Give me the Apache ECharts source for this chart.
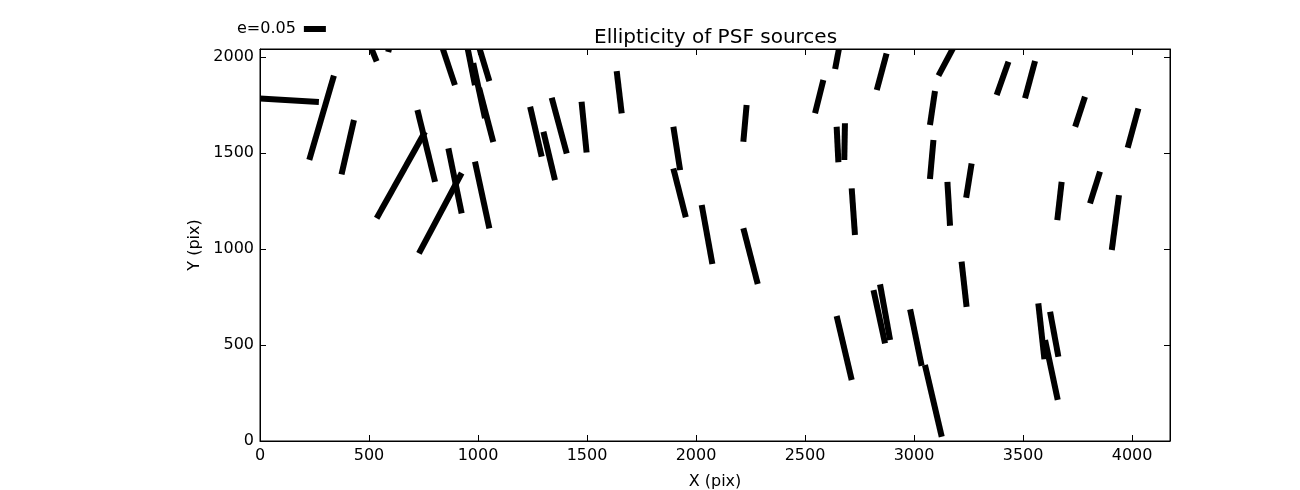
<!DOCTYPE html>
<html>
<head>
<meta charset="utf-8">
<script src="https://cdn.jsdelivr.net/npm/echarts@6/dist/echarts.min.js"></script>
<style>
html,body{margin:0;padding:0;background:#fff;}
#chart{width:1300px;height:490px;}
</style>
</head>
<body>
<div id="chart"></div>
<script>
// Whisker segments (data units: pixels of the detector)
const x1 = [-10, 339, 431, 500, 588, 832, 722, 535, 729, 948, 1000, 978, 1005, 1239, 1300, 1338, 1475, 1636, 864, 986,
            2232, 1896, 1896, 2026, 2217, 2660, 2584, 2874, 2645, 2683, 2714, 3190, 3096, 3089, 3153, 3264, 3433, 3555, 3784, 4029,
            3677, 3853, 3940, 2645, 2814, 2844, 2982, 3050, 3218, 3570, 3624, 3601];
const y1 = [1785, 1903, 1672, 2075, 2026, 2065, 1724, 1160, 977, 2070, 2070, 1969, 1839, 1741, 1611, 1788, 1767, 1927, 1524, 1455,
            1750, 1637, 1420, 1229, 1108, 2070, 1880, 2019, 1637, 1655, 1316, 2070, 1823, 1568, 1350, 1446, 1975, 1979, 1793, 1732,
            1350, 1403, 1281, 651, 786, 816, 686, 396, 934, 717, 673, 526];
const x2 = [270, 226, 374, 535, 600, 894, 803, 757, 925, 986, 1052, 1032, 1070, 1292, 1353, 1407, 1498, 1659, 925, 1052,
            2217, 1927, 1953, 2075, 2283, 2638, 2546, 2829, 2653, 2680, 2729, 3112, 3073, 3073, 3165, 3239, 3379, 3509, 3739, 3980,
            3657, 3807, 3907, 2714, 2867, 2890, 3035, 3127, 3241, 3598, 3662, 3659];
const y2 = [1766, 1464, 1389, 1977, 2080, 1854, 1350, 1611, 1396, 1854, 1875, 1682, 1557, 1481, 1359, 1498, 1503, 1707, 1186, 1108,
            1559, 1411, 1165, 922, 818, 1938, 1707, 1828, 1452, 1464, 1073, 1903, 1646, 1365, 1121, 1267, 1802, 1785, 1637, 1528,
            1151, 1238, 995, 318, 509, 526, 391, 22, 699, 426, 439, 214];

const keyLabel = 'e=0.05';
const xTicks = [0, 500, 1000, 1500, 2000, 2500, 3000, 3500, 4000];
const yTicks = [0, 500, 1000, 1500, 2000];
const xMax = 4174, yMax = 2042;

const rows = x1.map((v, i) => [v, y1[i], x2[i], y2[i]]);
const FONT = 'DejaVu Sans';

const chart = echarts.init(document.getElementById('chart'), null, {renderer: 'canvas'});

const tickFmtX = v => (xTicks.indexOf(v) >= 0 ? String(v) : '');
const tickFmtY = v => (yTicks.indexOf(v) >= 0 ? String(v) : '');

const axisCommon = {
  axisLine: {show: true, onZero: false, lineStyle: {color: '#000', width: 1}},
  splitLine: {show: false},
  axisTick: {show: true, inside: true, length: 6, lineStyle: {color: '#000', width: 1}}
};

chart.setOption({
  animation: false,
  backgroundColor: '#fff',
  title: {
    text: 'Ellipticity of PSF sources',
    left: 594, top: 28,
    padding: 0,
    textStyle: {fontFamily: FONT, fontSize: 20, fontWeight: 'normal', color: '#000'}
  },
  legend: {
    left: 237, top: 21, padding: 0,
    align: 'right',
    itemWidth: 22, itemHeight: 6,
    data: [{name: keyLabel, icon: 'rect'}],
    textStyle: {fontFamily: FONT, fontSize: 16, color: '#000', padding: [0, 3, 0, 0]},
    itemStyle: {color: '#000'}
  },
  grid: {left: 260, right: 130, top: 49, bottom: 49, show: true, borderColor: '#000', borderWidth: 1,
         containLabel: false, outerBoundsMode: 'none'},
  xAxis: [
    Object.assign({
      type: 'value', position: 'bottom', min: 0, max: xMax, interval: 500,
      name: 'X (pix)', nameLocation: 'middle', nameGap: 33,
      nameTextStyle: {fontFamily: FONT, fontSize: 16, color: '#000'},
      axisLabel: {fontFamily: FONT, fontSize: 16, color: '#000', margin: 7, formatter: tickFmtX, showMaxLabel: false}
    }, axisCommon),
    Object.assign({
      type: 'value', position: 'top', min: 0, max: xMax, interval: 500,
      axisLabel: {show: false}
    }, axisCommon)
  ],
  yAxis: [
    Object.assign({
      type: 'value', position: 'left', min: 0, max: yMax, interval: 500,
      name: 'Y (pix)', nameLocation: 'middle', nameGap: 53, nameRotate: 90,
      nameTextStyle: {fontFamily: FONT, fontSize: 16, color: '#000'},
      axisLabel: {fontFamily: FONT, fontSize: 16, color: '#000', margin: 6, formatter: tickFmtY, showMaxLabel: false}
    }, axisCommon),
    Object.assign({
      type: 'value', position: 'right', min: 0, max: yMax, interval: 500,
      axisLabel: {show: false}
    }, axisCommon)
  ],
  series: [{
    type: 'custom',
    name: keyLabel,
    coordinateSystem: 'cartesian2d',
    xAxisIndex: 0, yAxisIndex: 0,
    clip: true,
    itemStyle: {color: '#000'},
    encode: {x: [0, 2], y: [1, 3]},
    data: rows,
    renderItem: function (params, api) {
      const p1 = api.coord([api.value(0), api.value(1)]);
      const p2 = api.coord([api.value(2), api.value(3)]);
      return {
        type: 'line',
        shape: {x1: p1[0], y1: p1[1], x2: p2[0], y2: p2[1]},
        style: {stroke: '#000', lineWidth: 6, lineCap: 'butt', fill: null}
      };
    }
  }]
});
</script>
</body>
</html>
